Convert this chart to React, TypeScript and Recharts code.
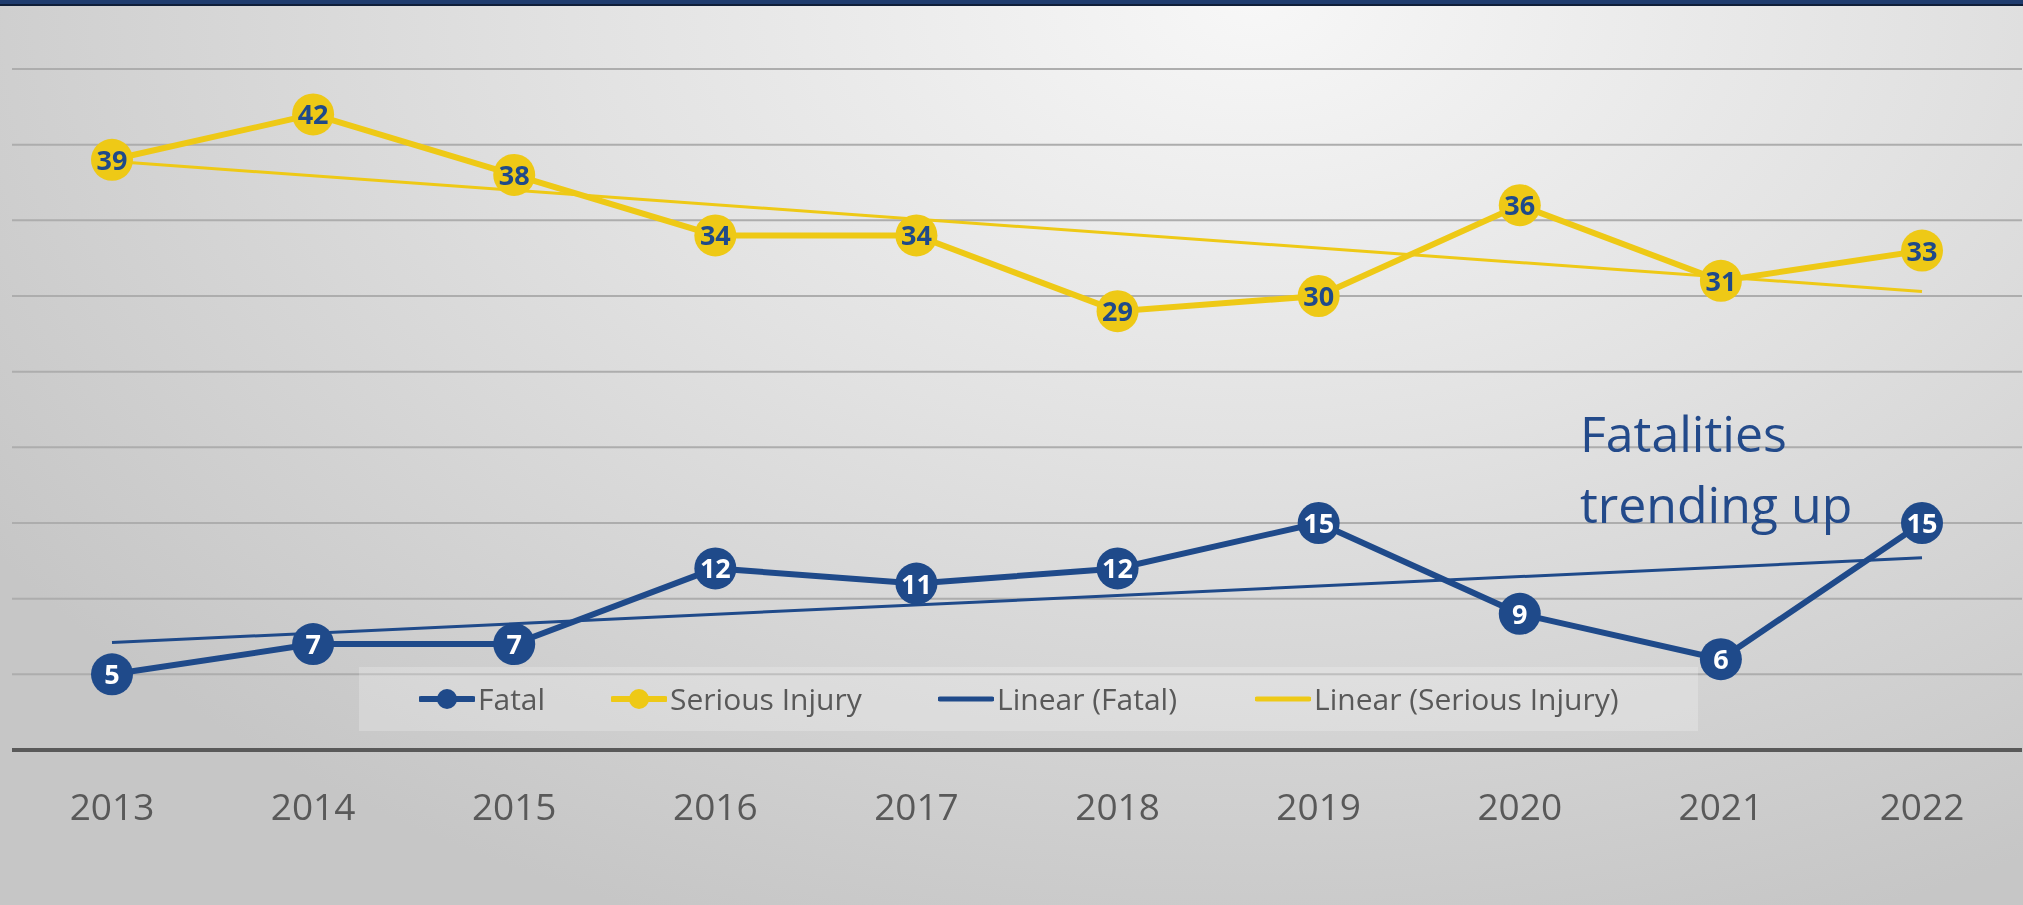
import React from 'react';
import { LineChart, Line, XAxis, YAxis, CartesianGrid, Legend, LabelList } from 'recharts';

const years = ['2013', '2014', '2015', '2016', '2017', '2018', '2019', '2020', '2021', '2022'];
const fatal = [5, 7, 7, 12, 11, 12, 15, 9, 6, 15];
const serious = [39, 42, 38, 34, 34, 29, 30, 36, 31, 33];
// linear trend line end values (first and last year)
const fatalTrendEnds = [7.1, 12.7];
const seriousTrendEnds = [38.9, 30.3];
const yTicks = [0, 5, 10, 15, 20, 25, 30, 35, 40, 45];

const BLUE = '#1F4A8A';
const GOLD = '#EEC916';
const FONT = '"Open Sans", "Noto Sans", sans-serif';

const last = years.length - 1;
const data = years.map((year, i) => ({
  year,
  fatal: fatal[i],
  serious: serious[i],
  fatalTrend: i === 0 ? fatalTrendEnds[0] : i === last ? fatalTrendEnds[1] : null,
  seriousTrend: i === 0 ? seriousTrendEnds[0] : i === last ? seriousTrendEnds[1] : null,
}));

const makeLabel = (color: string) => (props: any) => {
  const { x, y, value } = props;
  if (value == null) return null;
  return (
    <text x={x} y={y} dy={10} textAnchor="middle" fill={color} fontFamily={FONT} fontWeight={700} fontSize={27}>
      {value}
    </text>
  );
};

const YearTick = (props: any) => {
  const { x, y, payload } = props;
  return (
    <text x={x} y={y} dy={70} textAnchor="middle" fill="#595959" fontFamily={FONT} fontSize={37}>
      {payload.value}
    </text>
  );
};

const legendItems = [
  { label: 'Fatal', color: BLUE, marker: true, left: 60 },
  { label: 'Serious Injury', color: GOLD, marker: true, left: 252 },
  { label: 'Linear (Fatal)', color: BLUE, marker: false, left: 579 },
  { label: 'Linear (Serious Injury)', color: GOLD, marker: false, left: 896 },
];

const renderLegend = () => (
  <div style={{ position: 'relative', width: '100%', height: '100%', background: 'rgba(255,255,255,0.22)' }}>
    {legendItems.map((it) => (
      <div key={it.label} style={{ position: 'absolute', left: it.left, top: 0, height: 64, display: 'flex', alignItems: 'center' }}>
        <svg width={56} height={24} style={{ display: 'block' }}>
          <line x1={2} y1={12} x2={54} y2={12} stroke={it.color} strokeWidth={it.marker ? 6 : 5} strokeLinecap="round" />
          {it.marker && <circle cx={28} cy={12} r={10} fill={it.color} />}
        </svg>
        <span style={{ marginLeft: 3, fontFamily: FONT, fontSize: 30, color: '#595959', whiteSpace: 'nowrap', lineHeight: '64px' }}>{it.label}</span>
      </div>
    ))}
  </div>
);

export default function App() {
  return (
    <div
      style={{
        position: 'fixed',
        left: 0,
        top: 0,
        width: 2023,
        height: 905,
        overflow: 'hidden',
        background: 'radial-gradient(ellipse 75% 110% at 62% 0%, #f7f7f7 0%, #e2e2e2 45%, #c6c6c6 100%)',
      }}
    >
      <div style={{ position: 'absolute', left: 0, top: 0, width: 2023, height: 4, background: '#1F3C6E', borderBottom: '2px solid #0F1E38' }} />
      <LineChart width={2023} height={905} data={data} margin={{ top: 69, right: 1, bottom: 31, left: 12 }}>
        <CartesianGrid horizontal vertical={false} stroke="#ADADAD" strokeWidth={2} />
        <XAxis
          dataKey="year"
          axisLine={{ stroke: '#595959', strokeWidth: 4 }}
          tickLine={false}
          tickSize={0}
          tickMargin={0}
          height={60}
          tick={<YearTick />}
          interval={0}
          padding={{ left: 100, right: 100 }}
        />
        <YAxis hide domain={[0, 45]} ticks={yTicks} type="number" />
        <Legend content={renderLegend} wrapperStyle={{ position: 'absolute', left: 359, top: 667, width: 1339, height: 64 }} />
        <Line
          dataKey="fatal"
          name="Fatal"
          stroke={BLUE}
          strokeWidth={6}
          dot={{ r: 21, fill: BLUE, stroke: 'none' }}
          activeDot={false}
          isAnimationActive={false}
        >
          <LabelList dataKey="fatal" content={makeLabel('#FFFFFF')} />
        </Line>
        <Line
          dataKey="serious"
          name="Serious Injury"
          stroke={GOLD}
          strokeWidth={6}
          dot={{ r: 21, fill: GOLD, stroke: 'none' }}
          activeDot={false}
          isAnimationActive={false}
        >
          <LabelList dataKey="serious" content={makeLabel(BLUE)} />
        </Line>
        <Line dataKey="fatalTrend" name="Linear (Fatal)" stroke={BLUE} strokeWidth={3} dot={false} activeDot={false} connectNulls isAnimationActive={false} />
        <Line dataKey="seriousTrend" name="Linear (Serious Injury)" stroke={GOLD} strokeWidth={3} dot={false} activeDot={false} connectNulls isAnimationActive={false} />
      </LineChart>
      <div
        style={{
          position: 'absolute',
          left: 1580,
          top: 398,
          fontFamily: FONT,
          fontSize: 50,
          lineHeight: '71px',
          color: '#234A8A',
          pointerEvents: 'none',
        }}
      >
        Fatalities
        <br />
        trending up
      </div>
    </div>
  );
}
